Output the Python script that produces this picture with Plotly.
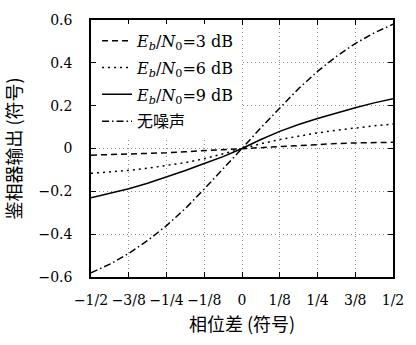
import plotly.graph_objects as go

x_vals = [i / 16 for i in range(-8, 9)]

y_3db = [-0.031, -0.029, -0.027, -0.024, -0.020, -0.015, -0.010, -0.005, 0.0,
         0.004, 0.009, 0.014, 0.019, 0.023, 0.026, 0.028, 0.029]
y_6db = [-0.116, -0.110, -0.102, -0.092, -0.080, -0.066, -0.048, -0.025, 0.0,
         0.022, 0.042, 0.058, 0.073, 0.085, 0.096, 0.106, 0.114]
y_9db = [-0.230, -0.210, -0.188, -0.162, -0.134, -0.103, -0.070, -0.038, 0.0,
         0.042, 0.080, 0.112, 0.140, 0.166, 0.190, 0.213, 0.232]
y_clean = [-0.580, -0.540, -0.490, -0.430, -0.360, -0.280, -0.189, -0.097, 0.0,
           0.097, 0.189, 0.280, 0.360, 0.430, 0.490, 0.540, 0.580]

series_names = [
    "<i>E</i><sub><i>b</i></sub>/<i>N</i><sub>0</sub>=3 dB",
    "<i>E</i><sub><i>b</i></sub>/<i>N</i><sub>0</sub>=6 dB",
    "<i>E</i><sub><i>b</i></sub>/<i>N</i><sub>0</sub>=9 dB",
    "无噪声",
]

x_tickvals = [-0.5, -0.375, -0.25, -0.125, 0, 0.125, 0.25, 0.375, 0.5]
x_ticktext = ["−1/2", "−3/8", "−1/4", "−1/8", "0", "1/8", "1/4", "3/8", "1/2"]
y_tickvals = [-0.6, -0.4, -0.2, 0, 0.2, 0.4, 0.6]
y_ticktext = ["−0.6", "−0.4", "−0.2", "0", "0.2", "0.4", "0.6"]

FONT = "DejaVu Serif, Noto Sans CJK SC, serif"
CJK = "Noto Sans CJK SC, DejaVu Serif, serif"

fig = go.Figure()
styles = ["6px,4px", "2px,4px", "solid", "7px,3px,1.5px,3px"]
for i, (name, ys, dsh) in enumerate(zip(series_names, [y_3db, y_6db, y_9db, y_clean], styles)):
    fig.add_trace(go.Scatter(x=x_vals, y=ys, mode="lines", name=name,
                             legendgroup=f"g{i}",
                             line=dict(color="black", width=1.5, dash=dsh)))

axis_common = dict(
    showline=True, linecolor="black", linewidth=1.5, mirror="ticks",
    ticks="inside", ticklen=5, tickcolor="black", tickwidth=1.2,
    showgrid=True, gridcolor="#8f8f8f", gridwidth=1, griddash="1px,3px",
    zeroline=False, tickangle=0, tickfont=dict(size=14, family=FONT, color="black"),
)

fig.update_xaxes(range=[-0.5, 0.5], tickvals=x_tickvals, ticktext=x_ticktext,
                 ticklabelstandoff=9,
                 title=dict(text="相位差 (符号)", font=dict(size=18, family=CJK, color="black"), standoff=12),
                 **axis_common)
fig.update_yaxes(range=[-0.6, 0.6], tickvals=y_tickvals, ticktext=y_ticktext,
                 ticklabelstandoff=14,
                 title=dict(text="鉴相器输出 (符号)", font=dict(size=18, family=CJK, color="black"), standoff=14),
                 **axis_common)

fig.update_layout(
    width=416, height=345,
    margin=dict(l=90, r=15, t=19, b=68),
    plot_bgcolor="white", paper_bgcolor="white",
    font=dict(family=FONT, size=14, color="black"),
    showlegend=True,
    legend=dict(x=0.02, y=0.985, xanchor="left", yanchor="top",
                bgcolor="white", borderwidth=0, tracegroupgap=3,
                font=dict(size=16, family=FONT, color="black")),
)

fig.write_html("out.html", config={"displayModeBar": False},
               post_script="document.body.style.margin='0px';document.body.style.overflow='hidden';")
